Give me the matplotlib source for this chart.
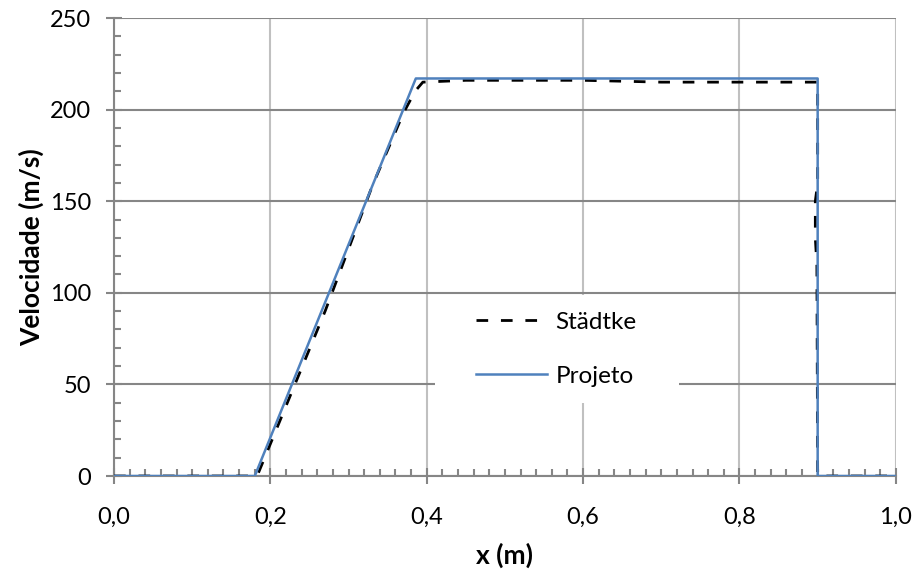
import matplotlib
matplotlib.use('Agg')
import matplotlib.pyplot as plt
from matplotlib.ticker import MultipleLocator, FuncFormatter
from matplotlib.patches import Rectangle

plt.rcParams['font.family'] = ['Lato', 'DejaVu Sans']

# perfil de velocidade do projeto
x_proj = [0.0, 0.18, 0.386, 0.900, 0.900, 1.0]
v_proj = [0, 0, 217, 217, 0, 0]

# referencia (Städtke)
x_stad = [0.0, 0.183, 0.27, 0.33, 0.37, 0.385, 0.395, 0.45, 0.60, 0.70, 0.80, 0.88, 0.900, 0.900, 0.897, 0.897, 0.899, 0.900, 1.0]
v_stad = [0, 0, 90, 158, 198, 210, 215, 216, 216, 215, 215, 215, 215, 160, 150, 130, 115, 0, 0]

cinza = '#868686'
cinza_claro = '#c0c0c0'

fig = plt.figure(figsize=(9.16, 5.72), dpi=100)
ax = fig.add_axes([0.1245, 0.1678, 0.8535, 0.8007])

ax.plot(x_stad, v_stad, color='black', lw=2.0, ls=(0, (4.2, 4.6)), label='Städtke', zorder=3)
ax.plot(x_proj, v_proj, color='#4f81bd', lw=1.8, label='Projeto', zorder=4)

ax.set_xlim(0, 1.0)
ax.set_ylim(0, 250)
ax.xaxis.set_major_locator(MultipleLocator(0.2))
ax.xaxis.set_minor_locator(MultipleLocator(0.02))
ax.yaxis.set_major_locator(MultipleLocator(50))
ax.yaxis.set_minor_locator(MultipleLocator(10))
ax.xaxis.set_major_formatter(FuncFormatter(lambda v, p: ('%.1f' % v).replace('.', ',')))

ax.grid(True, axis='x', which='major', color=cinza_claro, lw=1.5)
ax.grid(True, axis='y', which='major', color=cinza, lw=1.5)
ax.set_axisbelow(True)

for s in ['top', 'right']:
    ax.spines[s].set_visible(False)
for s in ['left', 'bottom']:
    ax.spines[s].set_color(cinza)
    ax.spines[s].set_linewidth(1.5)

ax.tick_params(which='major', direction='inout', length=11, width=1.5, color=cinza, labelsize=17)
ax.tick_params(axis='x', which='major', pad=17)
ax.tick_params(axis='y', which='major', pad=11)
ax.tick_params(which='minor', direction='in', length=5, width=1.5, color=cinza)

ax.set_xlabel('x (m)', fontsize=19, fontweight='bold', labelpad=10)
ax.set_ylabel('Velocidade (m/s)', fontsize=19, fontweight='bold', labelpad=4)

# fundo branco da legenda por cima da grade
ax.add_patch(Rectangle((0.411, 0.159), 0.311, 0.236, transform=ax.transAxes,
                       facecolor='white', edgecolor='none', zorder=1))
leg = ax.legend(loc='center', bbox_to_anchor=(0.566, 0.277), frameon=False, fontsize=17.5,
                handlelength=2.9, labelspacing=1.35, borderpad=0, handletextpad=0.35)

fig.savefig('out.png', dpi=100)
